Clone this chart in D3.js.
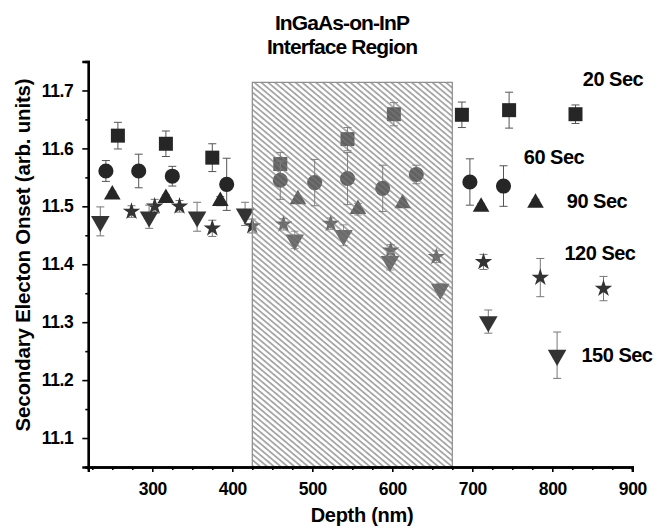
<!DOCTYPE html>
<html>
<head>
<meta charset="utf-8">
<script src="https://cdn.jsdelivr.net/npm/d3@7"></script>
<style>
  html, body { margin: 0; padding: 0; background: #fff; }
  svg { display: block; }
  text { font-family: "Liberation Sans", Arial, sans-serif; font-weight: bold; fill: #000; }
</style>
</head>
<body>
<svg id="chart" width="663" height="529"></svg>
<script>
// ---- data ----
const titleLines = ["InGaAs-on-InP", "Interface Region"];
const xLabel = "Depth (nm)";
const yLabel = "Secondary Electon Onset (arb. units)";
const xTicks = [300, 400, 500, 600, 700, 800, 900];
const yTicks = [11.1, 11.2, 11.3, 11.4, 11.5, 11.6, 11.7];
const interfaceRegion = [425, 675, 11.714]; // depth start, depth end, top value

const depth20 = [257, 317, 375, 460, 544, 602, 687, 746, 829];
const value20 = [11.622, 11.608, 11.584, 11.573, 11.616, 11.659, 11.658, 11.666, 11.659];
const err20   = [0.023, 0.022, 0.024, 0.020, 0.020, 0.020, 0.022, 0.031, 0.016];

const depth60 = [242, 283, 325, 393, 460, 503, 544, 588, 630, 697, 739];
const value60 = [11.561, 11.561, 11.552, 11.538, 11.545, 11.541, 11.548, 11.531, 11.555, 11.542, 11.535];
const err60   = [0.018, 0.029, 0.017, 0.045, 0.033, 0.040, 0.045, 0.040, 0.016, 0.040, 0.035];

const depth90 = [250, 317, 385, 482, 557, 613, 711, 779];
const value90 = [11.520, 11.514, 11.509, 11.512, 11.495, 11.505, 11.499, 11.506];
const err90   = [0.006, 0.006, 0.008, 0.006, 0.010, 0.006, 0.006, 0.006];

const depth120 = [274, 303, 334, 375, 425, 464, 523, 598, 655, 714, 785, 864];
const value120 = [11.491, 11.500, 11.500, 11.462, 11.466, 11.469, 11.470, 11.424, 11.413, 11.404, 11.377, 11.358];
const err120   = [0.010, 0.012, 0.010, 0.014, 0.012, 0.010, 0.010, 0.010, 0.010, 0.013, 0.033, 0.021];

const depth150 = [235, 296, 356, 416, 478, 539, 597, 660, 720, 806];
const value150 = [11.474, 11.482, 11.482, 11.487, 11.442, 11.450, 11.405, 11.357, 11.301, 11.243];
const err150   = [0.025, 0.020, 0.025, 0.020, 0.015, 0.018, 0.015, 0.010, 0.020, 0.040];

const seriesNames = ["20 Sec", "60 Sec", "90 Sec", "120 Sec", "150 Sec"];

// ---- layout ----
const svg = d3.select("#chart");
const x = d3.scaleLinear().domain([220, 900]).range([88.3, 632.3]);
const y = d3.scaleLinear().domain([11.05, 11.75]).range([467, 61.5]);

// hatch pattern
const defs = svg.append("defs");
const pat = defs.append("pattern")
  .attr("id", "hatch").attr("patternUnits", "userSpaceOnUse")
  .attr("width", 4.4).attr("height", 4.4)
  .attr("patternTransform", "rotate(-50)");
pat.append("rect").attr("x", 0).attr("y", 0).attr("width", 2.6).attr("height", 4.4)
  .attr("fill", "#fff").attr("fill-opacity", 0.28);
pat.append("rect").attr("x", 2.6).attr("y", 0).attr("width", 1.8).attr("height", 4.4)
  .attr("fill", "#888").attr("fill-opacity", 0.75);

// series setup
const series = [
  { name: seriesNames[0], d: depth20, v: value20, e: err20, sym: d3.symbolSquare, size: 196, rot: 0, color: "#262626", err: "#555" },
  { name: seriesNames[1], d: depth60, v: value60, e: err60, sym: d3.symbolCircle, size: 180, rot: 0, color: "#262626", err: "#555" },
  { name: seriesNames[2], d: depth90, v: value90, e: err90, sym: d3.symbolTriangle, size: 120, rot: 0, color: "#262626", err: "#777" },
  { name: seriesNames[3], d: depth120, v: value120, e: err120, sym: d3.symbolStar, size: 95, rot: 0, color: "#333", err: "#777" },
  { name: seriesNames[4], d: depth150, v: value150, e: err150, sym: d3.symbolTriangle, size: 150, rot: 180, color: "#333", err: "#777" }
];

const plot = svg.append("g");
series.forEach(s => {
  const pts = s.d.map((d, i) => ({ d, v: s.v[i], e: s.e[i] }));
  const g = plot.append("g");
  const eb = g.selectAll("g.eb").data(pts).enter().append("g")
    .attr("stroke", s.err).attr("stroke-width", 1).attr("fill", "none");
  eb.append("line")
    .attr("x1", p => x(p.d)).attr("x2", p => x(p.d))
    .attr("y1", p => y(p.v + p.e)).attr("y2", p => y(p.v - p.e));
  eb.append("line")
    .attr("x1", p => x(p.d) - 4).attr("x2", p => x(p.d) + 4)
    .attr("y1", p => y(p.v + p.e)).attr("y2", p => y(p.v + p.e));
  eb.append("line")
    .attr("x1", p => x(p.d) - 4).attr("x2", p => x(p.d) + 4)
    .attr("y1", p => y(p.v - p.e)).attr("y2", p => y(p.v - p.e));
  g.selectAll("path.m").data(pts).enter().append("path")
    .attr("d", d3.symbol().type(s.sym).size(s.size))
    .attr("transform", p => `translate(${x(p.d)},${y(p.v)}) rotate(${s.rot})`)
    .attr("fill", s.color);
});

// interface region (hatched, drawn over markers)
svg.append("rect")
  .attr("x", x(interfaceRegion[0]))
  .attr("y", y(interfaceRegion[2]))
  .attr("width", x(interfaceRegion[1]) - x(interfaceRegion[0]))
  .attr("height", y(11.05) - y(interfaceRegion[2]))
  .attr("fill", "url(#hatch)")
  .attr("stroke", "#8a8a8a").attr("stroke-width", 1.2);

// axes
const xAxis = d3.axisBottom(x).tickValues(xTicks).tickSize(5).tickPadding(11).tickFormat(d3.format("d"));
const yAxis = d3.axisLeft(y).tickValues(yTicks).tickSize(6).tickPadding(9).tickFormat(d3.format(".1f"));
const xMinor = d3.axisBottom(x).tickValues(d3.range(225, 900, 25).filter(v => v % 100 !== 0)).tickSize(3).tickFormat("");
const yMinor = d3.axisLeft(y).tickValues([11.05, 11.15, 11.25, 11.35, 11.45, 11.55, 11.65, 11.75]).tickSize(3).tickFormat("");

function styleAxis(g) {
  g.select(".domain").attr("stroke", "#000").attr("stroke-width", 2.4);
  g.selectAll(".tick line").attr("stroke", "#000").attr("stroke-width", 1.6);
  g.selectAll(".tick text").attr("font-size", 17.5).attr("letter-spacing", "-0.4px")
    .attr("font-family", "'Liberation Sans', Arial, sans-serif").attr("font-weight", "bold");
}
svg.append("g").attr("transform", `translate(0,${y(11.05)})`).call(xMinor).call(styleAxis);
svg.append("g").attr("transform", `translate(${x(220)},0)`).call(yMinor).call(styleAxis);
svg.append("g").attr("transform", `translate(0,${y(11.05)})`).call(xAxis).call(styleAxis);
svg.append("g").attr("transform", `translate(${x(220)},0)`).call(yAxis).call(styleAxis);

// axis labels
svg.append("text").attr("x", 362).attr("y", 522).attr("text-anchor", "middle")
  .attr("font-size", 20).attr("letter-spacing", "-0.3px").text(xLabel);
svg.append("text").attr("transform", "translate(30,255) rotate(-90)").attr("text-anchor", "middle")
  .attr("font-size", 20.5).attr("letter-spacing", "-0.2px").text(yLabel);

// title
svg.selectAll("text.title").data(titleLines).enter().append("text")
  .attr("x", 342).attr("y", (d, i) => 30 + i * 24).attr("text-anchor", "middle")
  .attr("font-size", 21).attr("letter-spacing", "-0.9px").text(d => d);

// series labels
const labelPos = [[613, 79], [554, 157], [597, 201], [600, 253], [617, 355]];
svg.selectAll("text.slabel").data(seriesNames).enter().append("text")
  .attr("x", (d, i) => labelPos[i][0]).attr("y", (d, i) => labelPos[i][1])
  .attr("dy", "0.35em").attr("text-anchor", "middle")
  .attr("font-size", 20).attr("letter-spacing", "-0.5px").text(d => d);
</script>
</body>
</html>
